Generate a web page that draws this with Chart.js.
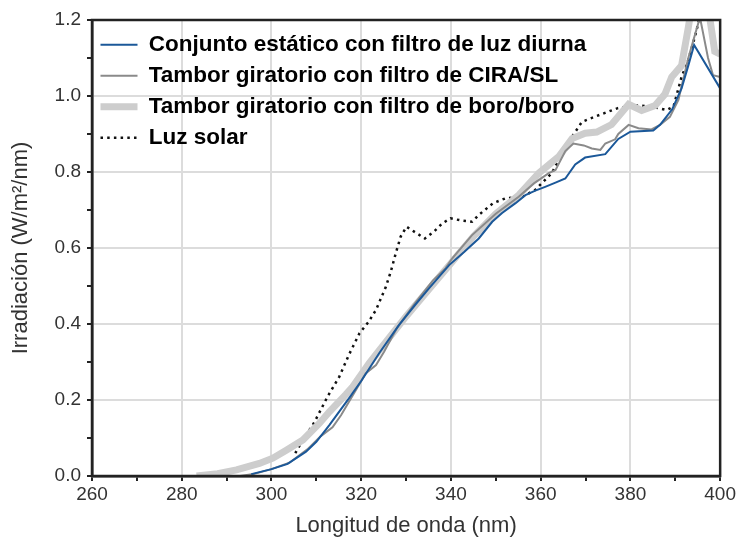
<!DOCTYPE html>
<html>
<head>
<meta charset="utf-8">
<script src="https://cdn.jsdelivr.net/npm/chart.js@4"></script>
<style>
  html, body { margin: 0; padding: 0; background: #fff; }
  #wrap { width: 738px; height: 539px; }
</style>
</head>
<body>
<div id="wrap"><canvas id="irrChart" width="738" height="539"></canvas></div>
<script>
// Wavelength (nm) and irradiance (W/m2/nm)
const wlStatic  = [295.5, 300, 303.6, 307.7, 310, 312.9, 317.3, 320, 324, 328.4, 332, 335.1, 339.6, 343, 346.2, 349.2, 351.4, 354.4, 356.6, 358.8, 361, 363.3, 365.5, 367.7, 369.9, 374.4, 377.3, 380, 385.1, 386.6, 388, 389.3, 391.4, 392.9, 394.2, 400];
const irrStatic = [0.005, 0.018, 0.032, 0.064, 0.09, 0.134, 0.205, 0.25, 0.323, 0.397, 0.45, 0.494, 0.555, 0.59, 0.625, 0.669, 0.692, 0.718, 0.739, 0.751, 0.761, 0.772, 0.783, 0.82, 0.838, 0.847, 0.887, 0.906, 0.909, 0.924, 0.945, 0.965, 1.02, 1.08, 1.134, 1.02];

const wlCira  = [277, 293, 296, 300, 304, 308, 311, 313.6, 315.5, 318, 321, 323.3, 325.1, 328, 332, 336, 338.8, 340.3, 344.7, 350, 355.1, 358.5, 361.8, 363.3, 365.5, 367.3, 369.6, 371.4, 373.3, 374.4, 376.6, 377.3, 379.6, 381.8, 384.7, 386.6, 388.8, 390.7, 392.9, 395.5, 397.3, 398.4, 400];
const irrCira = [0, 0, 0.005, 0.018, 0.035, 0.07, 0.105, 0.128, 0.16, 0.21, 0.27, 0.292, 0.327, 0.39, 0.455, 0.515, 0.547, 0.573, 0.634, 0.69, 0.735, 0.77, 0.797, 0.805, 0.855, 0.875, 0.87, 0.862, 0.858, 0.875, 0.886, 0.9, 0.924, 0.915, 0.912, 0.924, 0.945, 0.99, 1.1, 1.207, 1.1, 1.055, 1.05];

const wlBoro  = [283.3, 288, 292.2, 297.3, 300.3, 303.3, 307, 310.7, 312.9, 316.6, 318.1, 321.8, 326, 330, 335, 340, 345, 350, 355.1, 359.6, 364, 367, 369.9, 372.5, 375.8, 379.6, 382.5, 385.5, 387.7, 389.2, 391.4, 392.9, 394, 396, 397.5, 398.8, 400];
const irrBoro = [0, 0.006, 0.016, 0.033, 0.047, 0.068, 0.095, 0.139, 0.169, 0.215, 0.235, 0.297, 0.36, 0.42, 0.49, 0.56, 0.63, 0.69, 0.739, 0.797, 0.84, 0.888, 0.902, 0.905, 0.925, 0.978, 0.962, 0.975, 1.005, 1.05, 1.08, 1.18, 1.26, 1.3, 1.22, 1.117, 1.11];

const wlSolar  = [305.3, 307, 309.5, 312.5, 315.1, 317.3, 319.6, 321.6, 323.3, 325.5, 326.6, 327.7, 328.8, 330.1, 331.8, 334.2, 336.2, 338.1, 339.9, 342.5, 344.7, 346.2, 349.4, 352.2, 355.9, 358.8, 362.5, 364.7, 367, 369.2, 372.2, 375.1, 377.2, 381, 384.7, 388.1, 389.6, 391.4, 392.9, 394.4, 395.3];
const irrSolar = [0.06, 0.095, 0.14, 0.209, 0.261, 0.32, 0.375, 0.405, 0.437, 0.498, 0.538, 0.586, 0.63, 0.656, 0.643, 0.625, 0.643, 0.665, 0.678, 0.672, 0.669, 0.687, 0.718, 0.731, 0.735, 0.753, 0.797, 0.849, 0.893, 0.932, 0.946, 0.959, 0.968, 0.976, 0.972, 0.963, 0.972, 1.05, 1.095, 1.157, 1.2];

const seriesLabels = [
    'Conjunto estático con filtro de luz diurna',
    'Tambor giratorio con filtro de CIRA/SL',
    'Tambor giratorio con filtro de boro/boro',
    'Luz solar'
];

// pair x and y arrays into points
function toPoints(xs, ys) {
    return xs.map((x, i) => ({ x: x, y: ys[i] }));
}

// frame around the plot area (top and right sides)
const framePlugin = {
    id: 'frame',
    afterDatasetsDraw(chart) {
        const a = chart.chartArea;
        const ctx = chart.ctx;
        ctx.save();
        ctx.strokeStyle = '#222';
        ctx.lineWidth = 2.5;
        ctx.strokeRect(a.left, a.top, a.right - a.left, a.bottom - a.top);
        ctx.restore();
    }
};

const tickFont = { family: 'Liberation Sans, Arial, sans-serif', size: 19 };
const titleFont = { family: 'Liberation Sans, Arial, sans-serif', size: 22 };

const ctx = document.getElementById('irrChart').getContext('2d');
const chart = new Chart(ctx, {
    type: 'line',
    data: {
        datasets: [{
            label: seriesLabels[0],
            data: toPoints(wlStatic, irrStatic),
            borderColor: '#1b5899',
            backgroundColor: '#1b5899',
            borderWidth: 2
        }, {
            label: seriesLabels[1],
            data: toPoints(wlCira, irrCira),
            borderColor: '#8a8a8a',
            backgroundColor: '#8a8a8a',
            borderWidth: 2
        }, {
            label: seriesLabels[2],
            data: toPoints(wlBoro, irrBoro),
            borderColor: '#cdcdcd',
            backgroundColor: '#cdcdcd',
            borderWidth: 7
        }, {
            label: seriesLabels[3],
            data: toPoints(wlSolar, irrSolar),
            borderColor: '#111',
            backgroundColor: '#111',
            borderWidth: 2.5,
            borderDash: [2.5, 4.2]
        }]
    },
    options: {
        responsive: false,
        animation: false,
        events: [],
        layout: { padding: { top: 20, right: 16, left: 0, bottom: 0 } },
        elements: {
            point: { radius: 0 },
            line: { tension: 0, fill: false }
        },
        scales: {
            x: {
                type: 'linear',
                min: 260,
                max: 400,
                afterFit: (scale) => { scale.height = 63; },
                border: { color: '#222', width: 2.5 },
                grid: {
                    color: (c) => (c.tick && c.tick.value % 20 === 0) ? '#dcdcdc' : 'rgba(0,0,0,0)',
                    lineWidth: 2,
                    tickColor: '#222',
                    tickWidth: 2,
                    tickLength: 5
                },
                ticks: {
                    stepSize: 10,
                    autoSkip: false,
                    maxRotation: 0,
                    padding: 2,
                    color: '#333',
                    font: tickFont,
                    callback: (v) => v % 20 === 0 ? String(v) : ''
                },
                title: {
                    display: true,
                    text: 'Longitud de onda (nm)',
                    color: '#333',
                    font: titleFont,
                    padding: { top: 0, bottom: 0 }
                }
            },
            y: {
                min: 0,
                max: 1.2,
                afterFit: (scale) => { scale.width = 92; },
                border: { color: '#222', width: 2.5 },
                grid: {
                    color: (c) => (c.tick && Math.round(c.tick.value * 10) % 2 === 0) ? '#dcdcdc' : 'rgba(0,0,0,0)',
                    lineWidth: 2,
                    tickColor: '#222',
                    tickWidth: 2,
                    tickLength: 5
                },
                ticks: {
                    stepSize: 0.1,
                    autoSkip: false,
                    padding: 6,
                    color: '#333',
                    font: tickFont,
                    callback: (v) => Math.round(v * 10) % 2 === 0 ? v.toFixed(1) : ''
                },
                title: {
                    display: true,
                    text: 'Irradiación (W/m²/nm)',
                    color: '#333',
                    font: titleFont,
                    padding: { top: 8, bottom: 0 }
                }
            }
        },
        plugins: {
            legend: {
                position: 'chartArea',
                align: 'start',
                title: {
                    display: true,
                    text: '',
                    font: { size: 10 },
                    padding: 6.5
                },
                labels: {
                    usePointStyle: true,
                    pointStyle: 'line',
                    pointStyleWidth: 37,
                    padding: 8.5,
                    color: '#000',
                    font: { family: 'Liberation Sans, Arial, sans-serif', size: 22.5, weight: 'bold' },
                    // keep the dataset's dash pattern in the legend sample
                    generateLabels: (chart) => {
                        const items = Chart.defaults.plugins.legend.labels.generateLabels(chart);
                        items.forEach((item) => {
                            const ds = chart.data.datasets[item.datasetIndex];
                            item.lineDash = ds.borderDash || [];
                            item.lineWidth = ds.borderWidth;
                            item.strokeStyle = ds.borderColor;
                        });
                        return items;
                    }
                }
            },
            tooltip: { enabled: false }
        }
    },
    plugins: [framePlugin]
});
</script>
</body>
</html>
